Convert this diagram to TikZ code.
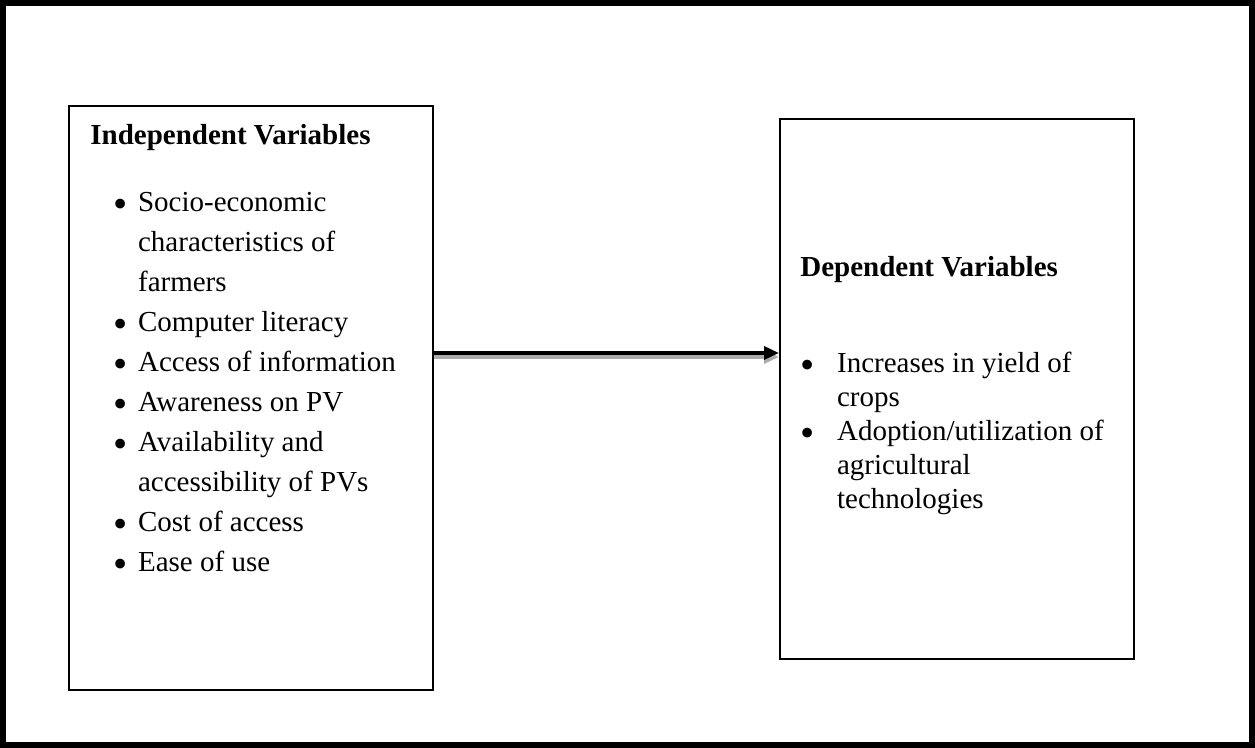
\documentclass[tikz,border=0pt]{standalone}
\usepackage{fontspec}
\setmainfont{Liberation Serif}
\usetikzlibrary{arrows.meta,positioning}

\newcommand{\blt}{\makebox[10pt]{\raisebox{-0.19em}{\scalebox{1.4}{\textbullet}}}}

\tikzset{
  varbox/.style={draw, line width=1.2pt, inner sep=0pt, anchor=north west},
  boxhead/.style={font=\bfseries\fontsize{14.5}{17}\selectfont, anchor=base west, inner sep=0pt},
  bulletlist/.style={anchor=base west, inner sep=0pt},
  flow/.style={line width=1.75pt, -{Triangle[length=7.5pt,width=6.5pt]}},
}

\begin{document}
\begin{tikzpicture}[x=0.5pt,y=-0.5pt]
  \useasboundingbox (0,0) rectangle (1255,748);
  \draw[line width=3pt] (3,3) rectangle (1252,745);

  % the two boxes
  \node[varbox, minimum width=182pt, minimum height=292pt] (indep) at (68,105) {};
  \node[varbox, minimum width=177pt, minimum height=270pt] (dep) at (779,118) {};

  % connector with its grey shadow
  \coordinate (arrowy) at (0,353);
  \coordinate (shadowy) at (0,357);
  \draw[flow, gray!65] (indep.east |- shadowy) -- (dep.west |- shadowy);
  \draw[flow] (indep.east |- arrowy) -- (dep.west |- arrowy);

  % left box text
  \node[boxhead] (indephead) at (90,145) {Independent Variables};
  \node[bulletlist, font=\fontsize{14.5}{20}\selectfont] (indeplist) at (110,212) {%
    \begin{tabular}[t]{@{}c@{\hspace{3.85pt}}l@{}}
      \blt & Socio-economic\\
           & characteristics of\\
           & farmers\\
      \blt & Computer literacy\\
      \blt & Access of information\\
      \blt & Awareness on PV\\
      \blt & Availability and\\
           & accessibility of PVs\\
      \blt & Cost of access\\
      \blt & Ease of use
    \end{tabular}};

  % right box text
  \node[boxhead] (dephead) at (800,277) {Dependent Variables};
  \node[bulletlist, font=\fontsize{14.5}{17}\selectfont] (deplist) at (797.5,373) {%
    \begin{tabular}[t]{@{}c@{\hspace{9.6pt}}l@{}}
      \blt & Increases in yield of\\
           & crops\\
      \blt & Adoption/utilization of\\
           & agricultural\\
           & technologies
    \end{tabular}};
\end{tikzpicture}
\end{document}
